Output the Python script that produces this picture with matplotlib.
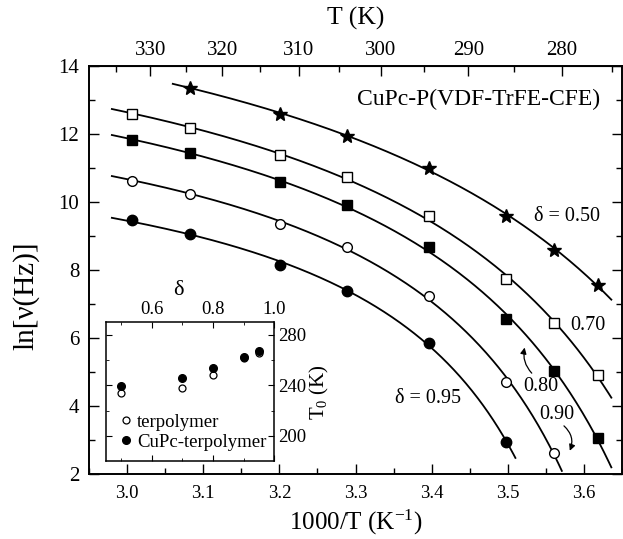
import numpy as np
import matplotlib
matplotlib.use('Agg')
import matplotlib.pyplot as plt
from matplotlib.ticker import FixedLocator, MultipleLocator, FormatStrFormatter

plt.rcParams['font.family'] = ['Liberation Serif', 'DejaVu Serif']
plt.rcParams['mathtext.fontset'] = 'custom'
plt.rcParams['mathtext.rm'] = 'Liberation Serif'
plt.rcParams['mathtext.it'] = 'Liberation Serif:italic'

# 1000/T columns of the measurements
inv_t = [3.006, 3.083, 3.201, 3.289, 3.396, 3.498, 3.561, 3.618]

# ln(nu) for each delta (star starts at the second column)
ln_050 = [13.34, 12.59, 11.94, 11.00, 9.59, 8.59, 7.55]
ln_070 = [12.59, 12.17, 11.36, 10.72, 9.59, 7.72, 6.42, 4.90]
ln_080 = [11.81, 11.42, 10.58, 9.90, 8.68, 6.54, 5.03, 3.04]
ln_090 = [10.62, 10.24, 9.34, 8.68, 7.23, 4.69, 2.60]
ln_095 = [9.46, 9.06, 8.13, 7.38, 5.84, 2.94]

# fit line ranges (1000/T)
line_start = [3.06, 2.98, 2.98, 2.98, 2.98]
line_end = [3.636, 3.636, 3.636, 3.571, 3.510]

# inset: T0 vs delta
delta = [0.50, 0.70, 0.80, 0.90, 0.95]
t0_ter = [233.8, 238.2, 248.0, 261.4, 265.4]
t0_cupc = [239.4, 246.2, 253.4, 262.2, 267.4]


def vf_fit(x, y):
    # Vogel-Fulcher: ln(nu) = A - B/(T - T0)
    T = 1000.0 / np.asarray(x)
    y = np.asarray(y)
    best = None
    for t0 in np.arange(100.0, T.min() - 0.5, 0.25):
        u = 1.0 / (T - t0)
        p = np.polyfit(u, y, 1)
        r = np.sum((np.polyval(p, u) - y) ** 2)
        if best is None or r < best[0]:
            best = (r, t0, p)
    return best[1], best[2]


series = [
    (inv_t[1:], ln_050, dict(marker='*', ms=10.5, mfc='k', mec='k')),
    (inv_t, ln_070, dict(marker='s', ms=6.5, mfc='white', mec='k', mew=1.0)),
    (inv_t, ln_080, dict(marker='s', ms=6.8, mfc='k', mec='k')),
    (inv_t[:7], ln_090, dict(marker='o', ms=7, mfc='white', mec='k', mew=1.0)),
    (inv_t[:6], ln_095, dict(marker='o', ms=7.5, mfc='k', mec='k')),
]

fig = plt.figure(figsize=(6.23, 5.39), dpi=100)
ax = fig.add_axes([0.1429, 0.1211, 0.8555, 0.757])

for i, (x, y, style) in enumerate(series):
    t0, p = vf_fit(x, y)
    xs = np.linspace(line_start[i], line_end[i], 400)
    Ts = 1000.0 / xs
    ys = np.polyval(p, 1.0 / (Ts - t0))
    ax.plot(xs, ys, '-', color='k', lw=1.3, zorder=2)
    ax.plot(x, y, ls='none', zorder=3, **style)

ax.set_xlim(2.95, 3.65)
ax.set_ylim(2, 14)
ax.xaxis.set_major_locator(MultipleLocator(0.1))
ax.xaxis.set_minor_locator(MultipleLocator(0.05))
ax.yaxis.set_major_locator(MultipleLocator(2))
ax.yaxis.set_minor_locator(MultipleLocator(1))
ax.xaxis.set_major_formatter(FormatStrFormatter('%.1f'))
ax.tick_params(which='both', direction='in', right=True, width=1.0)
ax.tick_params(axis='x', which='both', pad=8, labelsize=13.5)
ax.tick_params(axis='y', which='both', pad=7, labelsize=15)
ax.tick_params(which='major', length=7)
ax.tick_params(which='minor', length=4)
for s in ax.spines.values():
    s.set_linewidth(1.4)

ax.set_xlabel('1000/T (K$^{\\mathrm{-1}}$)', fontsize=18, va='top')
ax.xaxis.set_label_coords(0.5, -0.083)
ax.set_ylabel('ln[ν(Hz)]', fontsize=21)
ax.yaxis.set_label_coords(-0.094, 0.435)


def to_t(x):
    with np.errstate(divide='ignore'):
        return 1000.0 / x


top = ax.secondary_xaxis('top', functions=(to_t, to_t))
top.xaxis.set_major_locator(FixedLocator([280, 290, 300, 310, 320, 330]))
top.xaxis.set_minor_locator(FixedLocator([275, 285, 295, 305, 315, 325, 335]))
top.tick_params(which='both', direction='in', labelsize=15, width=1.0, pad=4)
top.tick_params(which='major', length=7)
top.tick_params(which='minor', length=4)
fig.text(355.5 / 623, 1 - 18 / 539, 'T (K)', ha='center', va='center', fontsize=18.5)

ax.text(3.621, 13.02, 'CuPc-P(VDF-TrFE-CFE)', ha='right', va='center', fontsize=17)
ax.text(3.621, 9.56, 'δ = 0.50', ha='right', va='center', fontsize=14.5)
ax.text(3.582, 6.37, '0.70', ha='left', va='center', fontsize=14.5)
ax.text(3.543, 4.56, '0.80', ha='center', va='center', fontsize=14.5)
ax.text(3.565, 3.73, '0.90', ha='center', va='center', fontsize=14.5)
ax.text(3.395, 4.22, 'δ = 0.95', ha='center', va='center', fontsize=14.5)
ax.annotate('', xy=(3.523, 5.79), xytext=(3.534, 4.90),
            arrowprops=dict(arrowstyle='-|>', color='k', lw=0.9,
                            connectionstyle='arc3,rad=-0.3', mutation_scale=9))
ax.annotate('', xy=(3.580, 2.60), xytext=(3.571, 3.46),
            arrowprops=dict(arrowstyle='-|>', color='k', lw=0.9,
                            connectionstyle='arc3,rad=-0.4', mutation_scale=9))

# inset
ins = fig.add_axes([0.1701, 0.1447, 0.2701, 0.2573])
ins.plot(delta, t0_ter, 'o', ms=5, mfc='white', mec='k', mew=0.9, label='terpolymer')
ins.plot(delta, t0_cupc, 'o', ms=5.5, mfc='k', mec='k', label='CuPc-terpolymer')
ins.set_xlim(0.45, 1.0)
ins.set_ylim(180, 290)
ins.xaxis.set_major_locator(FixedLocator([0.6, 0.8, 1.0]))
ins.xaxis.set_minor_locator(FixedLocator([0.5, 0.7, 0.9]))
ins.yaxis.set_major_locator(FixedLocator([200, 240, 280]))
ins.yaxis.set_minor_locator(FixedLocator([220, 260]))
ins.xaxis.set_major_formatter(FormatStrFormatter('%.1f'))
ins.tick_params(which='both', direction='in', top=True, right=True, bottom=True, left=True,
                labeltop=True, labelbottom=False, labelright=True, labelleft=False,
                labelsize=13.5, pad=3)
ins.tick_params(which='major', length=4)
ins.tick_params(which='minor', length=2)
for s in ins.spines.values():
    s.set_linewidth(1.1)
ins.xaxis.set_label_position('top')
ins.set_xlabel('δ', fontsize=16, labelpad=1)
ins.xaxis.set_label_coords(0.43, 1.2)
ins.yaxis.set_label_position('right')
ins.set_ylabel('T$_{\\mathrm{0}}$ (K)', fontsize=15, labelpad=1)
ins.legend(loc='lower left', frameon=False, fontsize=13.5, handletextpad=0.1,
           borderaxespad=0.15, labelspacing=0.15, handlelength=1.0)

fig.savefig('out.png', dpi=100)
